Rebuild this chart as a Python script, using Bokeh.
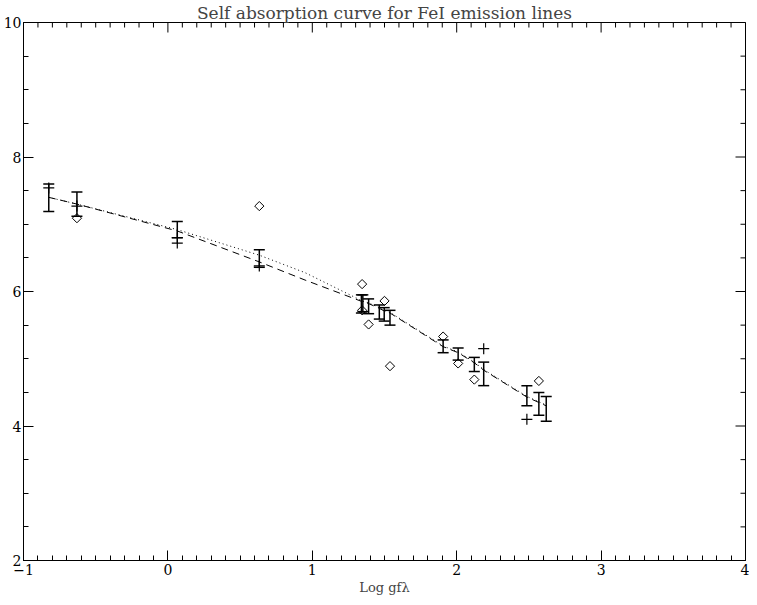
import numpy as np
from bokeh.plotting import figure
from bokeh.models import Range1d, Whisker, ColumnDataSource, TeeHead, FixedTicker
from bokeh.embed import file_html
from bokeh.resources import INLINE

# ---- data ----
bar_x = [-0.825, -0.63, 0.065, 0.633, 1.340, 1.350, 1.39, 1.464, 1.498, 1.538,
         1.906, 2.01, 2.122, 2.187, 2.486, 2.569, 2.62]
bar_hi = [7.60, 7.48, 7.04, 6.62, 5.95, 5.95, 5.89, 5.80, 5.76, 5.72,
          5.28, 5.16, 5.02, 4.95, 4.60, 4.50, 4.44]
bar_lo = [7.19, 7.12, 6.80, 6.36, 5.68, 5.70, 5.67, 5.59, 5.56, 5.50,
          5.09, 4.98, 4.81, 4.60, 4.30, 4.16, 4.07]

curve_x = [-0.825, -0.63, 0.065, 0.633, 0.95, 1.345, 1.39, 1.464, 1.498, 1.538,
           1.906, 2.01, 2.122, 2.187, 2.486, 2.569, 2.62]
dotted_y = [7.40, 7.30, 6.92, 6.54, 6.28, 5.86, 5.83, 5.76, 5.72, 5.69,
            5.19, 5.10, 4.95, 4.84, 4.44, 4.36, 4.31]
dashed_y = [7.40, 7.30, 6.90, 6.44, 6.17, 5.85, 5.82, 5.75, 5.71, 5.68,
            5.18, 5.09, 4.94, 4.83, 4.43, 4.35, 4.30]

plus_x = [-0.825, -0.63, 0.065, 0.065, 0.633, 2.187, 2.486]
plus_y = [7.54, 7.27, 6.80, 6.72, 6.38, 5.15, 4.10]

diam_x = [-0.63, 0.633, 1.345, 1.345, 1.39, 1.50, 1.538, 1.906, 2.01, 2.122, 2.569]
diam_y = [7.09, 7.27, 6.11, 5.72, 5.51, 5.86, 4.89, 5.33, 4.93, 4.69, 4.67]

x_major = [-1, 0, 1, 2, 3, 4]
x_minor = [round(v, 1) for v in np.arange(-1, 4.001, 0.1)]
y_major = [2, 4, 6, 8, 10]
y_minor = [round(v, 1) for v in np.arange(2, 10.001, 0.5)]

X_MIN, X_MAX = -1, 4
Y_MIN, Y_MAX = 2, 10

FONT = "DejaVu Serif"

p = figure(width=749, height=597, x_range=Range1d(X_MIN, X_MAX), y_range=Range1d(Y_MIN, Y_MAX),
           output_backend="svg", toolbar_location=None,
           min_border_left=2, min_border_right=4, min_border_top=0, min_border_bottom=0)
p.background_fill_color = "white"
p.border_fill_color = "white"
p.xgrid.visible = False
p.ygrid.visible = False
p.outline_line_color = "black"

p.title.text = "Self absorption curve for FeI emission lines"
p.title.align = "center"
p.title.text_font = FONT
p.title.text_font_style = "normal"
p.title.text_font_size = "17px"
p.title.standoff = 0
p.title.offset = 0


def style_axis(ax, ticks, minor):
    ax.ticker = FixedTicker(ticks=ticks, minor_ticks=minor)
    ax.major_tick_in = 10
    ax.major_tick_out = 0
    ax.minor_tick_in = 5
    ax.minor_tick_out = 0
    ax.axis_line_color = "black"
    ax.major_tick_line_color = "black"
    ax.minor_tick_line_color = "black"
    ax.major_label_text_font = FONT
    ax.major_label_text_color = "black"
    ax.major_label_text_font_size = "14px"


style_axis(p.xaxis[0], x_major, x_minor)
style_axis(p.yaxis[0], y_major, y_minor)
p.xaxis[0].major_label_standoff = 3
p.xaxis[0].axis_label = "Log gfλ"
p.xaxis[0].axis_label_text_font = FONT
p.xaxis[0].axis_label_text_font_style = "normal"
p.xaxis[0].axis_label_text_font_size = "13px"
p.xaxis[0].axis_label_standoff = 2
p.yaxis[0].major_label_standoff = 2

# mirrored ticks on top and right edges (markers are clipped to the frame)
minor_x_only = [v for v in x_minor if v not in x_major]
minor_y_only = [v for v in y_minor if v not in y_major]
p.scatter(x_major, [Y_MAX] * len(x_major), marker="dash", angle=np.pi / 2, size=20,
          line_color="black", line_width=1)
p.scatter(minor_x_only, [Y_MAX] * len(minor_x_only), marker="dash", angle=np.pi / 2, size=10,
          line_color="black", line_width=1)
p.scatter([X_MAX] * len(y_major), y_major, marker="dash", size=20,
          line_color="black", line_width=1)
p.scatter([X_MAX] * len(minor_y_only), minor_y_only, marker="dash", size=10,
          line_color="black", line_width=1)

# fitted curves
p.line(curve_x, dotted_y, line_color="black", line_dash="1 3", line_width=1)
p.line(curve_x, dashed_y, line_color="black", line_dash="7 5", line_width=1)

# error bars
src = ColumnDataSource(dict(x=bar_x, lo=bar_lo, hi=bar_hi))
w = Whisker(source=src, base="x", lower="lo", upper="hi", dimension="height",
            line_color="black", line_width=1.5,
            upper_head=TeeHead(size=11, line_color="black", line_width=1.5),
            lower_head=TeeHead(size=11, line_color="black", line_width=1.5))
p.add_layout(w)

# individual measurements
p.scatter(plus_x, plus_y, marker="cross", size=11, line_color="black", line_width=1.2)
p.scatter(diam_x, diam_y, marker="square", angle=np.pi / 4, size=6.5,
          fill_color=None, line_color="black", line_width=1)

open("out.html", "w").write(file_html(p, INLINE))
